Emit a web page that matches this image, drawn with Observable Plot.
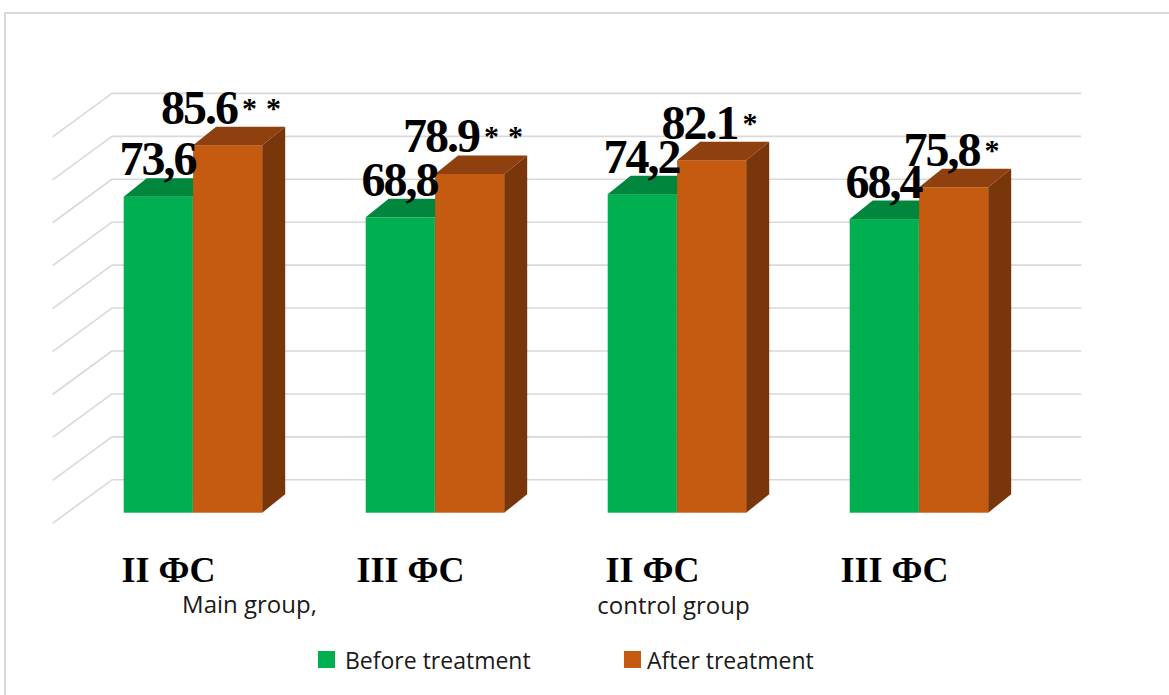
<!DOCTYPE html>
<html>
<head>
<meta charset="utf-8">
<script src="https://cdn.jsdelivr.net/npm/d3@7"></script>
<script src="https://cdn.jsdelivr.net/npm/@observablehq/plot@0.6"></script>
<style>
  html, body { margin: 0; padding: 0; background: #fff; }
  body { width: 1169px; height: 695px; overflow: hidden; position: relative; font-family: "Open Sans", sans-serif; }
  #frame { position: absolute; left: 4px; top: 12px; width: 1180px; height: 700px; border-left: 2px solid #d9d9d9; border-top: 2px solid #d9d9d9; }
  #chart { position: absolute; left: 0; top: 0; }
  .leg { position: absolute; top: 646px; height: 28px; line-height: 28px; font-size: 23px; color: #1a1a1a; white-space: nowrap; }
  .sw { position: absolute; top: 651px; width: 17px; height: 17px; }
</style>
</head>
<body>
<div id="frame"></div>
<div id="chart"></div>
<div id="legend"></div>
<script>
// ---- data ----
const groupIds = ["g1", "g2", "g3", "g4"];
const groupLabels = ["II ФС", "III ФС", "II ФС", "III ФС"];
const subLabels = ["Main group,", "", "control group", ""];
const beforeValues = [73.6, 68.8, 74.2, 68.4];
const afterValues = [85.6, 78.9, 82.1, 75.8];
const beforeLabels = ["73,6", "68,8", "74,2", "68,4"];
const afterLabels = ["85.6", "78.9", "82.1", "75,8"];
const afterStars = ["**", "**", "*", "*"];
const gridTicks = [0, 10, 20, 30, 40, 50, 60, 70, 80, 90];
const seriesNames = ["Before treatment", "After treatment"];
const seriesColors = ["#00b050", "#c55a11"];
const topColors = ["#00863d", "#8e400e"];
const sideColors = ["#006e31", "#79360a"];

const beforeRows = groupIds.map((id, i) => ({id, value: beforeValues[i], label: beforeLabels[i]}));
const afterRows = groupIds.map((id, i) => ({id, value: afterValues[i], label: afterLabels[i] + afterStars[i]}));
const groupRows = groupIds.map((id, i) => ({id, label: groupLabels[i], sub: subLabels[i]}));

// depth of the 3D effect
const DX = 23, DY = 18.5;
const WALL_DX = 41, WALL_DY = 33.4;

const chart = Plot.plot({
  width: 1169,
  height: 640,
  marginTop: 126.3,
  marginBottom: 127.3,
  marginLeft: 71.6,
  marginRight: 128.7,
  style: {background: "transparent", overflow: "visible"},
  x: {type: "band", domain: groupIds, padding: 0, axis: null},
  y: {domain: [0, 90], axis: null},
  marks: [
    Plot.ruleY(gridTicks, {y: d => d, dx: WALL_DX, dy: -WALL_DY, stroke: "#d9d9d9", strokeWidth: 1.6}),
    Plot.barY(beforeRows, {x: "id", y: "value", fill: seriesColors[0], insetLeft: 51.7, insetRight: 121.2}),
    Plot.barY(afterRows, {x: "id", y: "value", fill: seriesColors[1], insetLeft: 121.1, insetRight: 51.8}),
    Plot.text(beforeRows, {x: "id", y: "value", text: "label", dx: -36, dy: -22, lineAnchor: "bottom",
      fontFamily: "Liberation Serif", fontWeight: "bold", fontSize: 48, fill: "#000"}),
    Plot.text(afterRows, {x: "id", y: "value", text: "label", dx: 32, dy: -22, lineAnchor: "bottom",
      fontFamily: "Liberation Serif", fontWeight: "bold", fontSize: 48, fill: "#000"}),
    Plot.text(groupRows, {x: "id", y: () => 0, text: "label", dx: -25, dy: 69, lineAnchor: "bottom",
      fontFamily: "Liberation Serif", fontWeight: "bold", fontSize: 36, fill: "#000"}),
    Plot.text(groupRows.filter(d => d.id === "g1"), {x: "id", y: () => 0, text: "sub", dx: 56, dy: 100, lineAnchor: "bottom",
      fontFamily: "Open Sans", fontSize: 24, fill: "#1a1a1a"}),
    Plot.text(groupRows.filter(d => d.id === "g3"), {x: "id", y: () => 0, text: "sub", dx: -4, dy: 101, lineAnchor: "bottom",
      fontFamily: "Open Sans", fontSize: 24, fill: "#1a1a1a"})
  ]
});

document.getElementById("chart").appendChild(chart);

// ---- 3D decoration derived from Plot's rendered bars and scales ----
const svg = d3.select(chart);
const yS = chart.scale("y");
const xS = chart.scale("x");
const x0 = xS.range[0];

// left wall diagonals
const wall = svg.insert("g", ":first-child").attr("stroke", "#d9d9d9").attr("stroke-width", 1.6);
gridTicks.forEach(t => {
  const yb = yS.apply(t) - WALL_DY;
  wall.append("line")
    .attr("x1", x0 + WALL_DX).attr("y1", yb)
    .attr("x2", x0 - 19).attr("y2", yb + 44);
});

const barGroups = chart.querySelectorAll('g[aria-label="bar"]');
barGroups.forEach((g, si) => {
  const faces = document.createElementNS("http://www.w3.org/2000/svg", "g");
  g.parentNode.insertBefore(faces, g.nextSibling);
  const fg = d3.select(faces);
  g.querySelectorAll("rect").forEach(r => {
    const x = +r.getAttribute("x"), y = +r.getAttribute("y");
    const w = +r.getAttribute("width"), h = +r.getAttribute("height");
    const L = x, R = x + w, T = y, B = y + h;
    fg.append("polygon")
      .attr("points", [[L, T], [R, T], [R + DX, T - DY], [L + DX, T - DY]].map(p => p.join(",")).join(" "))
      .attr("fill", topColors[si]);
    fg.append("polygon")
      .attr("points", [[R, T], [R + DX, T - DY], [R + DX, B - DY], [R, B]].map(p => p.join(",")).join(" "))
      .attr("fill", sideColors[si]);
  });
});

// condensed value labels and smaller raised asterisks
const textGroups = chart.querySelectorAll('g[aria-label="text"]');
[textGroups[0], textGroups[1]].forEach(g => g.setAttribute("letter-spacing", "-2"));
textGroups.forEach(g => g.querySelectorAll("text").forEach(t => {
  const s = t.textContent;
  const m = s.match(/^(.*?)(\*+)$/);
  if (!m) return;
  t.textContent = "";
  const a = document.createElementNS("http://www.w3.org/2000/svg", "tspan");
  a.textContent = m[1];
  const b = document.createElementNS("http://www.w3.org/2000/svg", "tspan");
  b.textContent = m[2];
  b.setAttribute("font-size", "30");
  b.setAttribute("dy", "-6");
  b.setAttribute("dx", "5");
  b.setAttribute("letter-spacing", m[2].length > 1 ? "9" : "0");
  t.appendChild(a);
  t.appendChild(b);
}));

// legend
const legend = document.getElementById("legend");
const legPos = [{sw: 318, tx: 345}, {sw: 624, tx: 647}];
seriesNames.forEach((name, i) => {
  const sw = document.createElement("div");
  sw.className = "sw";
  sw.style.left = legPos[i].sw + "px";
  sw.style.background = seriesColors[i];
  legend.appendChild(sw);
  const tx = document.createElement("div");
  tx.className = "leg";
  tx.style.left = legPos[i].tx + "px";
  tx.textContent = name;
  legend.appendChild(tx);
});
</script>
</body>
</html>
